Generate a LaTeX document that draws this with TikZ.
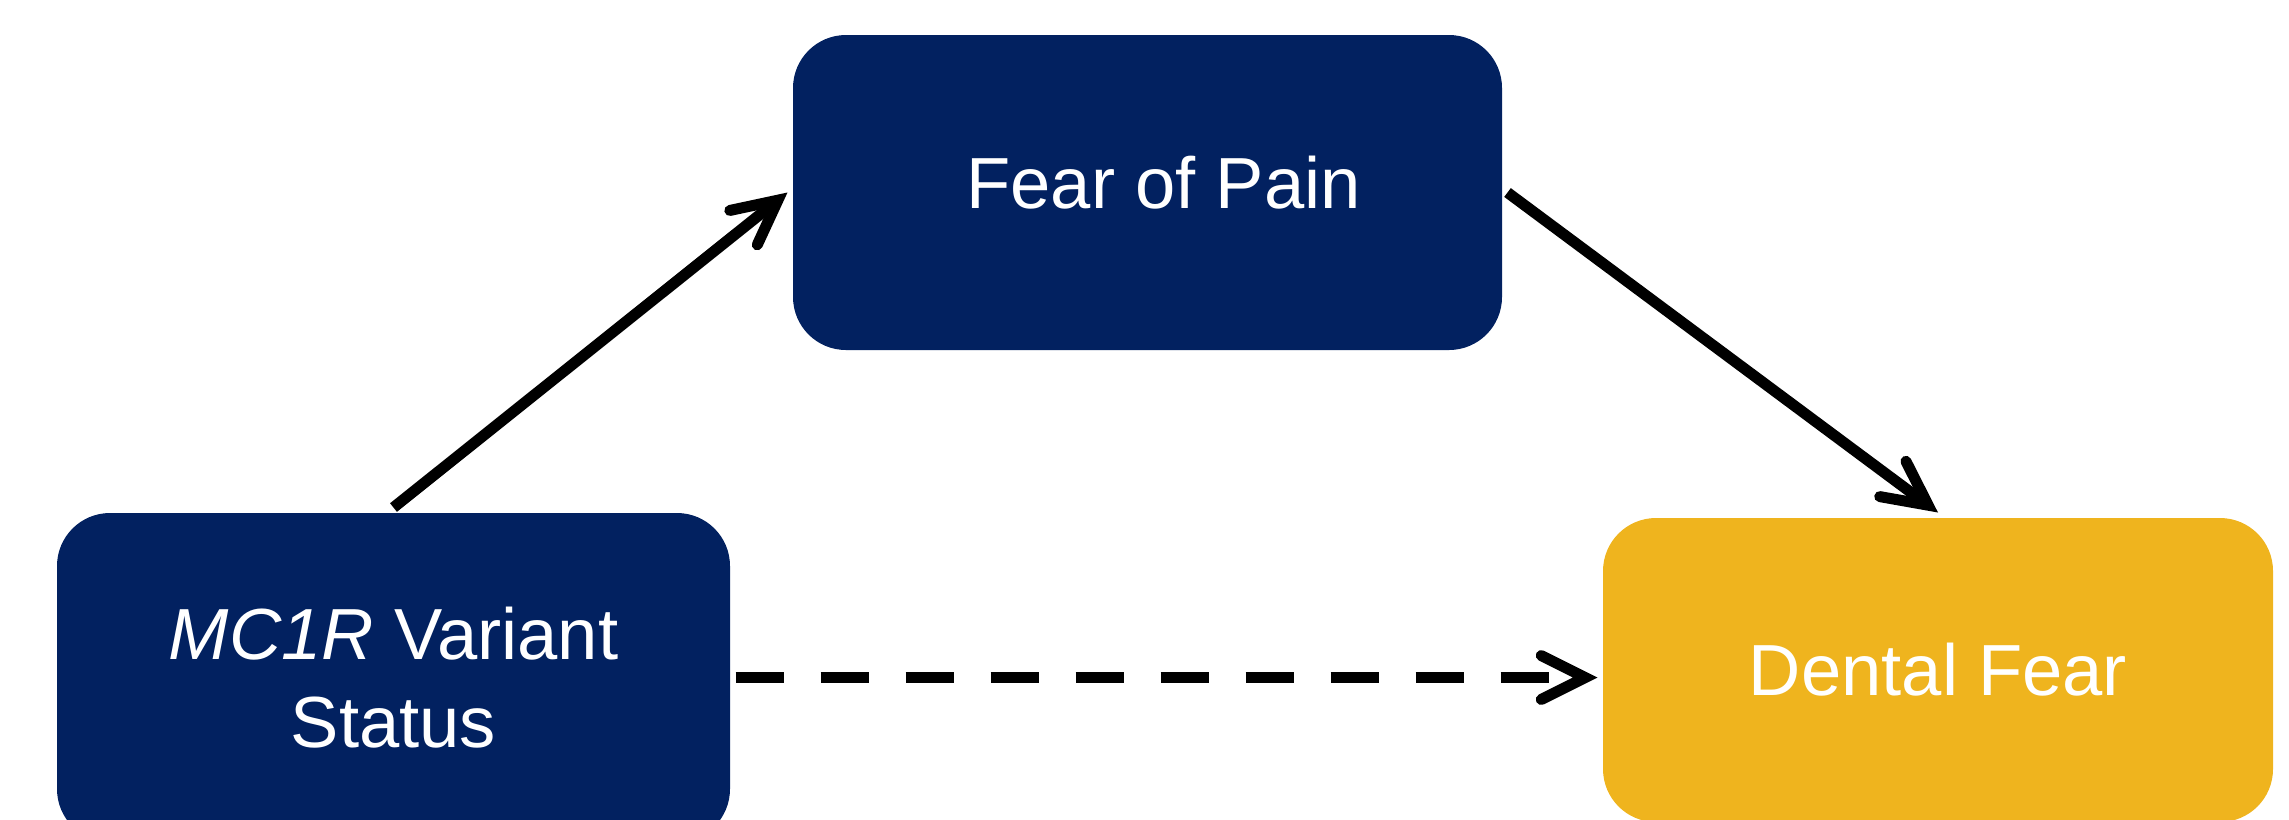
\documentclass[tikz,border=0pt]{standalone}
\usepackage{fontspec}
\setmainfont{Liberation Sans}
\usepackage{tikz}
\usetikzlibrary{calc}
\usetikzlibrary{positioning}
\usetikzlibrary{arrows.meta}

\definecolor{navyblue}{RGB}{2,33,96}
\definecolor{goldfill}{RGB}{239,180,30}

\begin{document}
\begin{tikzpicture}[->,>={Straight Barb[length=0.44cm,width=0.44cm,line cap=round]},
	  line width=0.11cm,
	  main node/.style={rectangle,rounded corners=0.53cm,fill=navyblue,text=white,align=center,
	    font=\fontsize{20.6pt}{25pt}\selectfont, inner sep=0pt, minimum width=6.73cm, minimum height=3.29cm},
	  dashline/.style={dash pattern=on 0.48cm off 0.37cm}]

	  \useasboundingbox (0,0) rectangle (22.89,-8.19);

	  \node[main node] (mc1r) at (3.935,-6.775) {\textit{MC1R} Variant\\Status};
	  \node[main node, minimum width=7.09cm, minimum height=3.15cm] (pain) at ($ (mc1r) + (7.54,4.85) $) {\hspace*{0.32cm}Fear of Pain\rule[-0.2cm]{0pt}{0.2cm}};
	  \node[main node, fill=goldfill, minimum width=6.70cm, minimum height=3.04cm] (dental) at ($ (mc1r) + (15.445,0.075) $) {Dental Fear};

	  \path
	    	(mc1r.north) 	edge 	(pain.west)
	 	(pain.east)	edge  	(dental.north)
	 	(mc1r.east)	edge[dashline]  	(mc1r.east -| dental.west);
	\end{tikzpicture}
\end{document}
